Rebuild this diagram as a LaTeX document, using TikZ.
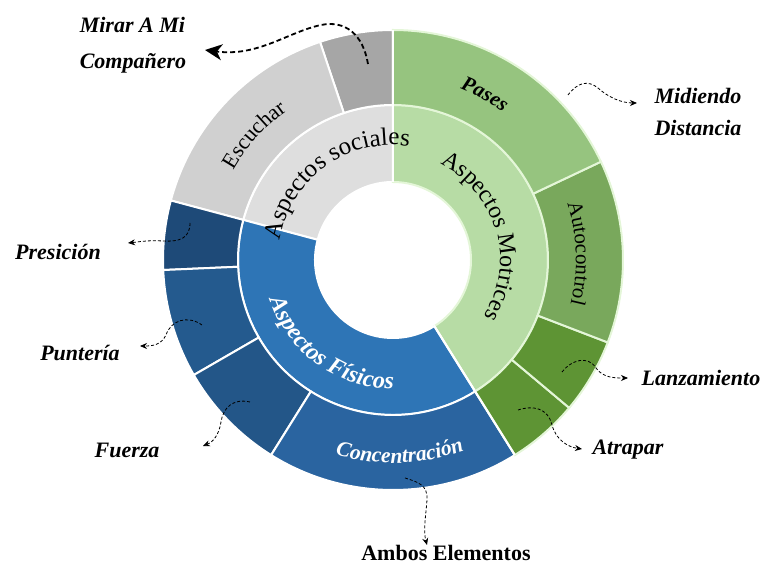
\documentclass[tikz,border=0pt]{standalone}
\usepackage{fontspec}
\setmainfont{Liberation Serif}
\usetikzlibrary{arrows.meta,decorations.text}

% sunburst palette
\definecolor{socInner}{HTML}{DEDEDE}
\definecolor{socMirar}{HTML}{A6A6A6}
\definecolor{socEsc}{HTML}{D0D0D0}
\definecolor{motInner}{HTML}{B7DCA5}
\definecolor{motPases}{HTML}{96C47F}
\definecolor{motAuto}{HTML}{79A85C}
\definecolor{motLanz}{HTML}{5E9434}
\definecolor{motEdge}{HTML}{E4F6D8}
\definecolor{fisInner}{HTML}{2E75B6}
\definecolor{fisPres}{HTML}{1E4A78}
\definecolor{fisPunt}{HTML}{245A8E}
\definecolor{fisFuer}{HTML}{235688}
\definecolor{fisConc}{HTML}{2A64A0}

% annular segment: inner radius, outer radius, start angle, end angle, style
\newcommand{\sbseg}[5]{%
  \filldraw[#5] (#3:#1) arc[start angle=#3,end angle=#4,radius=#1]
    -- (#4:#2) arc[start angle=#4,end angle=#3,radius=#2] -- cycle;}

\tikzset{
  gray seg/.style={draw=white,line width=2pt,fill=#1},
  green seg/.style={draw=motEdge,line width=2pt,fill=#1},
  blue seg/.style={draw=white,line width=2pt,fill=#1},
  lbl/.style={font=\fontsize{22}{26}\selectfont\bfseries\itshape,inner sep=1pt},
  conn/.style={densely dashed,line width=0.8pt,-{Stealth[length=7pt,width=6pt]}},
  bigconn/.style={dash pattern=on 5pt off 3pt,line width=1.8pt,
    -{Stealth[length=17pt,width=16pt,inset=5pt]}},
  curved/.style={decorate,decoration={text along path,text align=center,#1}}
}

\begin{document}
\begin{tikzpicture}[x=1pt,y=1pt]
\useasboundingbox (-393,260) rectangle (373,-307);

% inner ring
\sbseg{78}{155}{90}{165}{gray seg=socInner}
\sbseg{78}{155}{-58}{90}{green seg=motInner}
\sbseg{78}{155}{165}{302}{blue seg=fisInner}

% outer ring
\sbseg{155}{230}{90}{108.5}{gray seg=socMirar}
\sbseg{155}{230}{108.5}{165}{gray seg=socEsc}
\sbseg{155}{230}{165}{182.5}{blue seg=fisPres}
\sbseg{155}{230}{182.5}{210}{blue seg=fisPunt}
\sbseg{155}{230}{210}{238}{blue seg=fisFuer}
\sbseg{155}{230}{238}{302}{blue seg=fisConc}
\sbseg{155}{230}{302}{320}{green seg=motLanz}
\sbseg{155}{230}{320}{339}{green seg=motLanz}
\sbseg{155}{230}{339}{385.3}{green seg=motAuto}
\sbseg{155}{230}{25.3}{90}{green seg=motPases}
\draw[white,line width=2pt] (302:78) -- (302:230);
\draw[white,line width=2pt] (90:78) -- (90:230);

% labels written along the rings
\path[curved={text={|\fontsize{25}{25}\selectfont|Aspectos sociales}}]
  (196:115) arc[start angle=196,end angle=56,radius=115];
\path[curved={text={|\fontsize{24}{24}\selectfont|Aspectos Motrices}}]
  (86:107) arc[start angle=86,end angle=-54,radius=107];
\path[curved={text color=white,text={|\fontsize{24}{24}\selectfont\bfseries\itshape|Aspectos Físicos}}]
  (164:129) arc[start angle=164,end angle=304,radius=129];
\path[curved={text={|\fontsize{22}{22}\selectfont|Escuchar}}]
  (188:183) arc[start angle=188,end angle=88,radius=183];
\path[curved={text={|\fontsize{21}{21}\selectfont\bfseries\itshape|Pases}}]
  (101:184) arc[start angle=101,end angle=21,radius=184];
\path[curved={text={|\fontsize{21}{21}\selectfont|Autocontrol}}]
  (42:183) arc[start angle=42,end angle=-38,radius=183];
\path[curved={text color=white,text={|\fontsize{21.5}{21.5}\selectfont\bfseries\itshape|Concentración}}]
  (237:203) arc[start angle=237,end angle=307,radius=203];

% outside labels
\node[lbl,align=left,font=\fontsize{22}{36}\selectfont\bfseries\itshape] (mirar) at (-260,215) {Mirar A Mi\\Compañero};
\node[lbl,align=left,font=\fontsize{22}{32}\selectfont\bfseries\itshape] (midiendo) at (305,148) {Midiendo\\Distancia};
\node[lbl] (presicion) at (-335,8) {Presición};
\node[lbl] (punteria) at (-313,-93) {Puntería};
\node[lbl] (fuerza) at (-266,-190) {Fuerza};
\node[lbl] (lanzamiento) at (308,-118) {Lanzamiento};
\node[lbl] (atrapar) at (235,-190) {Atrapar};
\node[lbl,font=\fontsize{22}{26}\selectfont\bfseries] (ambos) at (53,-293) {Ambos Elementos};

% connector ends
\coordinate (sMirar) at (-25,196);
\coordinate (tMirar) at (-188,210);
\coordinate (sMid) at (175,165);
\coordinate (tMid) at (244,157);
\coordinate (sPres) at (-203,37);
\coordinate (tPres) at (-265,17);
\coordinate (sPunt) at (-191,-65);
\coordinate (tPunt) at (-253,-86);
\coordinate (sFuer) at (-143,-142);
\coordinate (tFuer) at (-190,-186);
\coordinate (sConc) at (12,-218);
\coordinate (tConc) at (34,-285);
\coordinate (sAtra) at (125,-150);
\coordinate (tAtra) at (189,-189);
\coordinate (sLanz) at (169,-112);
\coordinate (tLanz) at (235,-118);

% wavy dashed connectors
\draw[bigconn] (sMirar) .. controls (-30,226) and (-48,240) .. (-72,235)
  .. controls (-105,228) and (-135,203) .. (tMirar);
\draw[conn] (sMid) .. controls (185,178) and (195,180) .. (205,172)
  .. controls (215,163) and (228,157) .. (tMid);
\draw[conn] (sPres) .. controls (-203,22) and (-213,18) .. (-230,19)
  .. controls (-245,20) and (-255,18) .. (tPres);
\draw[conn] (sPunt) .. controls (-205,-55) and (-222,-60) .. (-227,-75)
  .. controls (-232,-85) and (-240,-86) .. (tPunt);
\draw[conn] (sFuer) .. controls (-160,-138) and (-170,-148) .. (-172,-162)
  .. controls (-174,-175) and (-180,-182) .. (tFuer);
\draw[conn] (sConc) .. controls (25,-222) and (35,-225) .. (34,-240)
  .. controls (33,-255) and (30,-270) .. (tConc);
\draw[conn] (sAtra) .. controls (140,-145) and (155,-148) .. (159,-165)
  .. controls (163,-180) and (175,-187) .. (tAtra);
\draw[conn] (sLanz) .. controls (178,-100) and (195,-95) .. (203,-108)
  .. controls (210,-118) and (222,-118) .. (tLanz);
\end{tikzpicture}
\end{document}
